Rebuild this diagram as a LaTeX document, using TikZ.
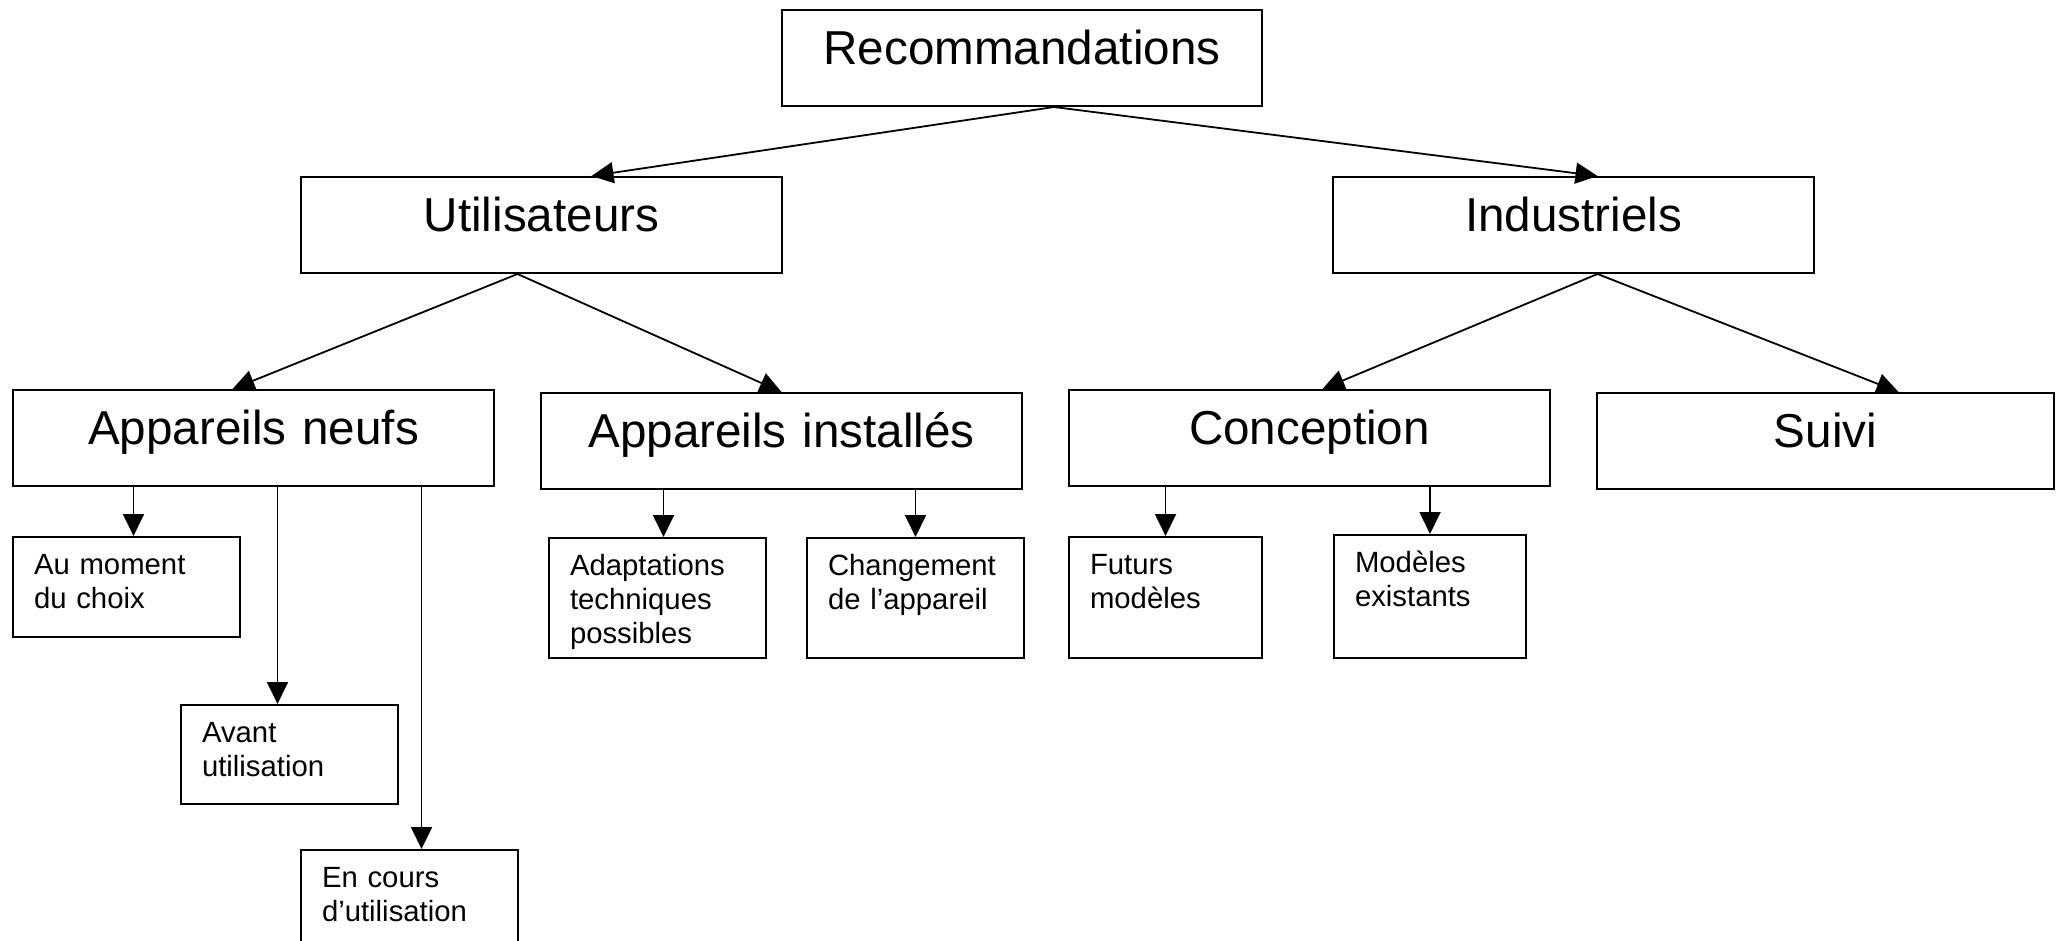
\documentclass[tikz,border=0pt]{standalone}
\usepackage{fontspec}
\setmainfont{Liberation Sans}
\usetikzlibrary{arrows.meta,calc}

\tikzset{
  grand/.style={draw, line width=1pt, inner sep=0pt, anchor=north west, align=center,
    font=\fontsize{23.8}{28}\selectfont, text height=27.3pt, text depth=20.7pt},
  petit/.style={draw, line width=1pt, inner xsep=10.5pt, inner ysep=0pt, anchor=north west,
    align=left, font=\fontsize{14.65}{17}\selectfont, text height=18.5pt},
  fleche/.style={-{Triangle[length=11pt,width=10.5pt]}, line width=0.9pt}
}

\begin{document}
\begin{tikzpicture}[x=0.5pt,y=-0.5pt]
\useasboundingbox (0,0) rectangle (2060,941);

\node[grand, text width=240pt] (reco) at (781,9) {Recommandations};
\node[grand, text width=240.5pt] (util) at (300,176) {Utilisateurs};
\node[grand, text width=240.5pt] (indu) at (1332,176) {Industriels};

\node[grand, text width=240.5pt] (neufs) at (12,389) {Appareils neufs};
\node[grand, text width=240.5pt] (inst) at (540,392) {Appareils installés};
\node[grand, text width=240.5pt] (conc) at (1068,389) {Conception};
\node[grand, text width=228.5pt] (suivi) at (1596,392) {Suivi};

\node[petit, text width=92.5pt, text depth=31.5pt] (moment) at (12,536) {Au moment\\du choix};
\node[petit, text width=87.5pt, text depth=31pt] (avant) at (180,704) {Avant\\utilisation};
\node[petit, text width=87.5pt, text depth=41.5pt] (cours) at (300,849) {En cours\\d’utilisation};
\node[petit, text width=87.5pt, text depth=41.5pt] (adapt) at (548,537) {Adaptations\\techniques\\possibles};
\node[petit, text width=87.5pt, text depth=41.5pt] (chang) at (806,537) {Changement\\de l’appareil};
\node[petit, text width=75.5pt, text depth=42pt] (futur) at (1068,536) {Futurs\\modèles};
\node[petit, text width=75pt, text depth=43pt] (model) at (1333,534) {Modèles\\existants};

\draw[fleche] ($(reco.south)+(32,0)$) -- ($(util.north)+(50,0)$);
\draw[fleche] ($(reco.south)+(32,0)$) -- ($(indu.north)+(24,0)$);
\draw[fleche] ($(util.south)+(-24,0)$) -- ($(neufs.north)+(-21,0)$);
\draw[fleche] ($(util.south)+(-24,0)$) -- (inst.north);
\draw[fleche] ($(indu.south)+(24,0)$) -- ($(conc.north)+(13,0)$);
\draw[fleche] ($(indu.south)+(24,0)$) -- ($(suivi.north)+(73,0)$);

\foreach \p/\c/\d in {neufs/moment/7,neufs/avant/-12,neufs/cours/12,inst/adapt/6,inst/chang/0,conc/futur/0,conc/model/0}{
  \coordinate (\c-in) at ($(\c.north)+(\d,0)$);
  \draw[fleche] (\c-in |- \p.south) -- (\c-in);
}
\end{tikzpicture}
\end{document}
